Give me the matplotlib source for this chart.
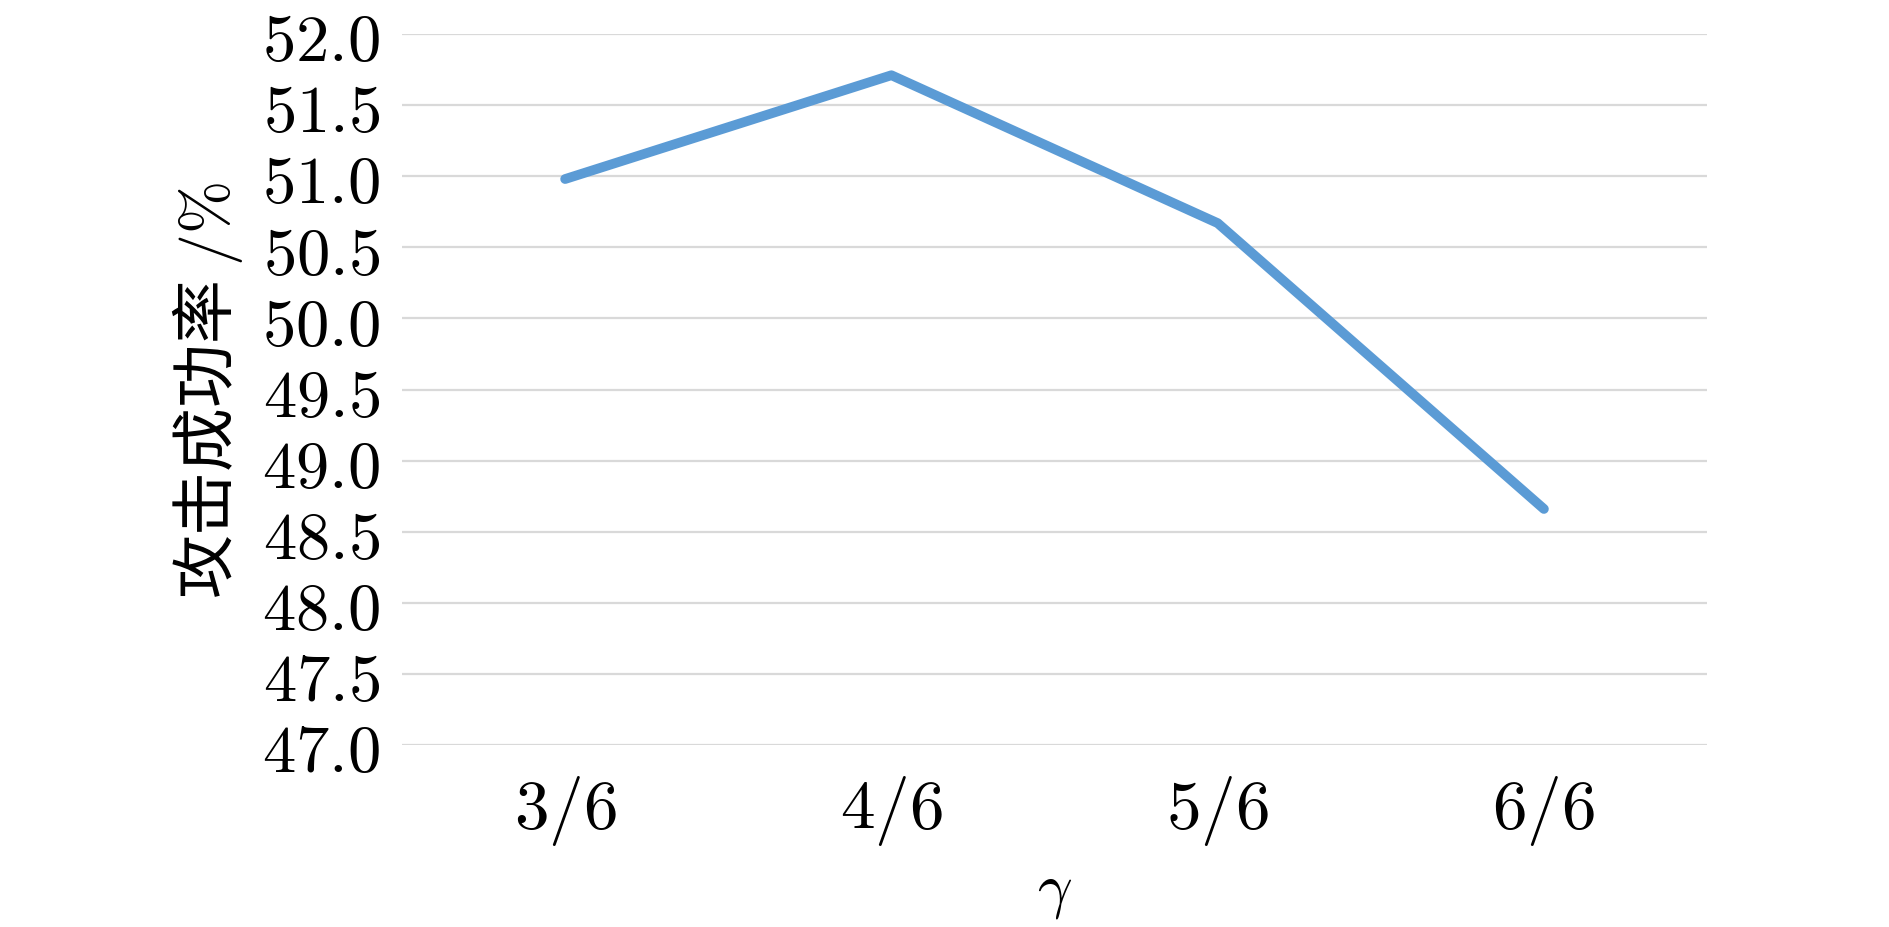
import matplotlib
matplotlib.use("Agg")
import matplotlib.pyplot as plt
from matplotlib.ticker import FuncFormatter

plt.rcParams['mathtext.fontset'] = 'cm'
plt.rcParams['font.family'] = ['Noto Sans CJK SC', 'DejaVu Sans']

gamma_labels = ['3/6', '4/6', '5/6', '6/6']
success_rate = [50.98, 51.71, 50.67, 48.66]
y_ticks = [47.0, 47.5, 48.0, 48.5, 49.0, 49.5, 50.0, 50.5, 51.0, 51.5, 52.0]

fig = plt.figure(figsize=(18.9, 9.28), dpi=100)
ax = fig.add_axes([0.2127, 0.1961, 0.6905, 0.7662])

x = list(range(len(gamma_labels)))
ax.plot(x, success_rate, color='#5B9BD5', linewidth=7, solid_capstyle='round', zorder=3)

ax.set_xlim(-0.5, len(gamma_labels) - 0.5)
ax.set_ylim(47.0, 52.0)
ax.set_yticks(y_ticks)
ax.yaxis.set_major_formatter(FuncFormatter(lambda v, p: '$%.1f$' % v))
ax.set_xticks(x)
ax.set_xticklabels(['$%s$' % s for s in gamma_labels])

ax.grid(axis='y', color='#D9D9D9', linewidth=1.6)
ax.set_axisbelow(True)
for s in ax.spines.values():
    s.set_visible(False)
ax.tick_params(axis='y', length=0, labelsize=48, pad=16)
ax.tick_params(axis='x', length=0, labelsize=50, pad=20)

ax.set_xlabel(r'$\gamma$', fontsize=44, labelpad=8)
ax.set_ylabel('攻击成功率 $/\\mathit{\\%}$', fontsize=46, labelpad=12)

fig.savefig('out.png', dpi=100, facecolor='white')
